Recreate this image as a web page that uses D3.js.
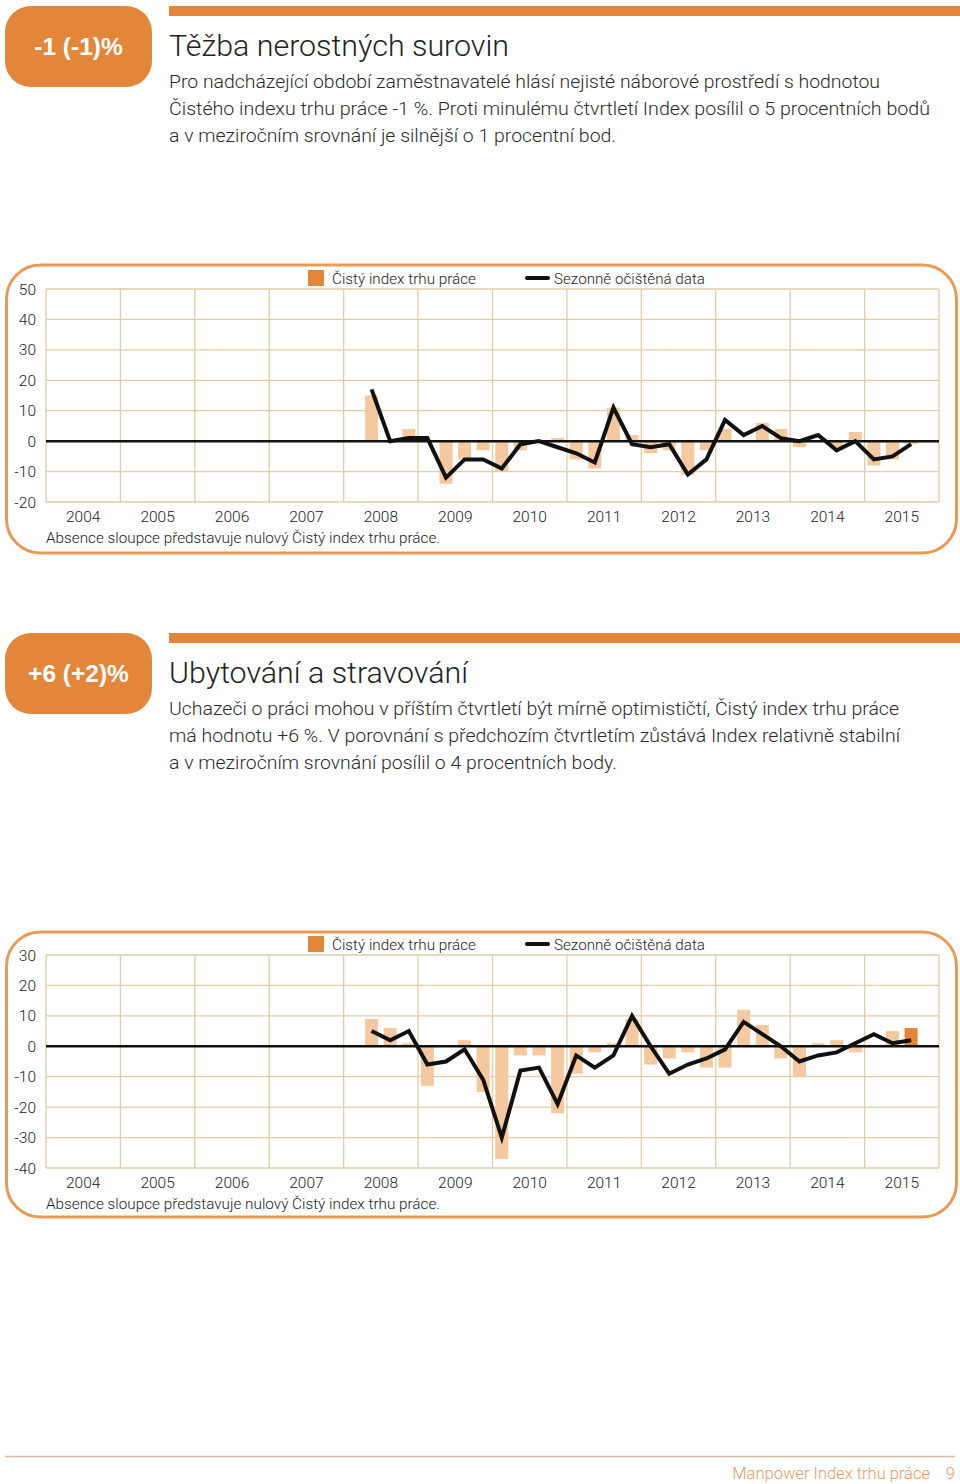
<!DOCTYPE html>
<html><head><meta charset="utf-8">
<script src="https://cdn.jsdelivr.net/npm/d3@7"></script>
<style>
html,body{margin:0;padding:0;background:#fff;}
svg{display:block;}
text{font-family:Roboto,"Liberation Sans",Arial,sans-serif;}
</style></head>
<body><svg id="c" width="960" height="1484"></svg>
<script>
// ---------- DATA ----------
const years = ["2004","2005","2006","2007","2008","2009","2010","2011","2012","2013","2014","2015"];
const quarterNames = ["Q1","Q2","Q3","Q4"];
const dataQuarters = [
  "2008Q2","2008Q3","2008Q4",
  "2009Q1","2009Q2","2009Q3","2009Q4",
  "2010Q1","2010Q2","2010Q3","2010Q4",
  "2011Q1","2011Q2","2011Q3","2011Q4",
  "2012Q1","2012Q2","2012Q3","2012Q4",
  "2013Q1","2013Q2","2013Q3","2013Q4",
  "2014Q1","2014Q2","2014Q3","2014Q4",
  "2015Q1","2015Q2","2015Q3"];
// Těžba nerostných surovin
const miningNet = [15,0,4, 0,-14,-6,-3, -10,-3,0,1, -6,-9,11,2, -4,-3,-11,-3, 4,0,6,4, -2,0,-2,3, -8,-6,-1];
const miningSA  = [17,0,1, 1,-12,-6,-6, -9,-1,0,-2, -4,-7,11,-1, -2,-1,-11,-6, 7,2,5,1, 0,2,-3,0, -6,-5,-1];
const miningTicks = [50,40,30,20,10,0,-10,-20];
// Ubytování a stravování
const hotelNet = [9,6,1, -13,0,2,-15, -37,-3,-3,-22, -9,-2,1,9, -6,-4,-2,-7, -7,12,7,-4, -10,1,2,-2, 0,5,6];
const hotelSA  = [5,2,5, -6,-5,-1,-11, -30,-8,-7,-19, -3,-7,-3,10, 0,-9,-6,-4, -1,8,4,0, -5,-3,-2,1, 4,1,2];
const hotelTicks = [30,20,10,0,-10,-20,-30,-40];

const legendBar = "Čistý index trhu práce";
const legendLine = "Sezonně očištěná data";
const noteText = "Absence sloupce představuje nulový Čistý index trhu práce.";

const sections = [
  {badge:"-1 (-1)%", title:"Těžba nerostných surovin",
   lines:["Pro nadcházející období zaměstnavatelé hlásí nejisté náborové prostředí s hodnotou",
          "Čistého indexu trhu práce -1 %. Proti minulému čtvrtletí Index posílil o 5 procentních bodů",
          "a v meziročním srovnání je silnější o 1 procentní bod."],
   net:miningNet, sa:miningSA, ticks:miningTicks, highlightLast:false},
  {badge:"+6 (+2)%", title:"Ubytování a stravování",
   lines:["Uchazeči o práci mohou v příštím čtvrtletí být mírně optimističtí, Čistý index trhu práce",
          "má hodnotu +6 %. V porovnání s předchozím čtvrtletím zůstává Index relativně stabilní",
          "a v meziročním srovnání posílil o 4 procentních body."],
   net:hotelNet, sa:hotelSA, ticks:hotelTicks, highlightLast:true}
];

// ---------- LAYOUT ----------
const layout = [
  {top:6, titleW:340, lineW:[711,761,447], frameY:265, frameH:288, plotTop:289, plotBottom:502},
  {top:633, titleW:299, lineW:[730,731,448], frameY:932, frameH:285, plotTop:955, plotBottom:1168}
];
const ORANGE = "#e3863a", LIGHT = "#f4c9a0", GRID = "#e2cca6", FRAME = "#e99a55";
const plotL = 46, plotR = 939;

const svg = d3.select("#c");

const quarterDomain = years.flatMap(y => quarterNames.map(q => y + q));
const xBand = d3.scaleBand().domain(quarterDomain).range([plotL, plotR]).paddingInner(0.3).paddingOuter(0.15);
const xYear = d3.scaleLinear().domain([2004, 2016]).range([plotL, plotR]);

sections.forEach((s, i) => {
  const L = layout[i];
  const g = svg.append("g");
  // badge
  g.append("rect").attr("x",5).attr("y",L.top).attr("width",147).attr("height",81)
    .attr("rx",26).attr("fill",ORANGE);
  g.append("text").attr("x",78.5).attr("y",L.top+49).attr("text-anchor","middle")
    .attr("fill","#fff").attr("font-size",24.5).attr("font-weight",700)
    .style("font-family","'Liberation Sans',Arial,sans-serif").text(s.badge);
  // top bar
  g.append("rect").attr("x",169).attr("y",L.top).attr("width",791).attr("height",10).attr("fill",ORANGE);
  // title
  g.append("text").attr("x",169).attr("y",L.top+50).attr("font-size",30).attr("font-weight",300)
    .attr("fill","#222").attr("textLength",L.titleW).attr("lengthAdjust","spacingAndGlyphs").text(s.title);
  s.lines.forEach((t, k) => {
    g.append("text").attr("x",169).attr("y",L.top+82+k*27).attr("font-size",18.5).attr("font-weight",300)
      .attr("fill","#2a2a2a").attr("textLength",L.lineW[k]).attr("lengthAdjust","spacingAndGlyphs").text(t);
  });

  // frame
  g.append("rect").attr("x",6.5).attr("y",L.frameY).attr("width",950).attr("height",L.frameH)
    .attr("rx",34).attr("fill","none").attr("stroke",FRAME).attr("stroke-width",3);

  const y = d3.scaleLinear().domain([d3.min(s.ticks), d3.max(s.ticks)]).range([L.plotBottom, L.plotTop]);

  // horizontal grid
  g.append("g").selectAll("line").data(s.ticks).join("line")
    .attr("x1",plotL).attr("x2",plotR).attr("y1",d=>y(d)).attr("y2",d=>y(d))
    .attr("stroke",GRID).attr("stroke-width",1.3);
  // vertical grid
  g.append("g").selectAll("line").data(d3.range(2004,2017)).join("line")
    .attr("x1",d=>xYear(d)).attr("x2",d=>xYear(d)).attr("y1",L.plotTop).attr("y2",L.plotBottom)
    .attr("stroke",GRID).attr("stroke-width",1.3);

  // y labels
  g.append("g").selectAll("text").data(s.ticks).join("text")
    .attr("x",36).attr("y",d=>y(d)).attr("dy","0.36em").attr("text-anchor","end")
    .attr("font-size",15.5).attr("font-weight",300).attr("fill","#222").text(d=>d);
  // year labels
  g.append("g").selectAll("text").data(years).join("text")
    .attr("x",d=>xYear(+d+0.5)).attr("y",L.plotBottom+20).attr("text-anchor","middle")
    .attr("font-size",15.5).attr("font-weight",300).attr("fill","#222").text(d=>d);
  // note
  g.append("text").attr("x",46).attr("y",L.plotBottom+41).attr("font-size",15.5).attr("font-weight",300).attr("fill","#222")
    .attr("textLength",394).attr("lengthAdjust","spacingAndGlyphs").text(noteText);

  // legend
  const ly = L.plotTop - 11;
  g.append("rect").attr("x",308).attr("y",ly-8).attr("width",16).attr("height",16).attr("fill",ORANGE);
  g.append("text").attr("x",332).attr("y",ly).attr("dy","0.36em").attr("font-size",15.5).attr("font-weight",300).attr("fill","#222")
    .attr("textLength",144).attr("lengthAdjust","spacingAndGlyphs").text(legendBar);
  g.append("line").attr("x1",527).attr("x2",548).attr("y1",ly).attr("y2",ly)
    .attr("stroke","#111").attr("stroke-width",4).attr("stroke-linecap","round");
  g.append("text").attr("x",554).attr("y",ly).attr("dy","0.36em").attr("font-size",15.5).attr("font-weight",300).attr("fill","#222")
    .attr("textLength",151).attr("lengthAdjust","spacingAndGlyphs").text(legendLine);

  // bars
  const rows = dataQuarters.map((q, k) => ({q, net:s.net[k], sa:s.sa[k], last:k===dataQuarters.length-1}));
  g.append("g").selectAll("rect").data(rows.filter(d=>d.net!==0)).join("rect")
    .attr("x",d=>xBand(d.q)).attr("width",xBand.bandwidth())
    .attr("y",d=>y(Math.max(0,d.net))).attr("height",d=>Math.abs(y(d.net)-y(0)))
    .attr("fill",d=>(d.last && s.highlightLast) ? ORANGE : LIGHT);

  // zero line
  g.append("line").attr("x1",plotL).attr("x2",plotR).attr("y1",y(0)).attr("y2",y(0))
    .attr("stroke","#111").attr("stroke-width",2.5);

  // SA line
  const line = d3.line().x(d=>xBand(d.q)+xBand.bandwidth()/2).y(d=>y(d.sa));
  g.append("path").datum(rows).attr("d",line).attr("fill","none")
    .attr("stroke","#111").attr("stroke-width",4).attr("stroke-linejoin","miter");
});

// footer
svg.append("line").attr("x1",5).attr("x2",955).attr("y1",1456.5).attr("y2",1456.5)
  .attr("stroke","#d9b9a0").attr("stroke-width",1.5);
svg.append("text").attr("x",930).attr("y",1479).attr("text-anchor","end").attr("font-size",16.5)
  .attr("font-weight",300).attr("fill","#df9c66").text("Manpower Index trhu práce");
svg.append("text").attr("x",955).attr("y",1479).attr("text-anchor","end").attr("font-size",16.5)
  .attr("font-weight",300).attr("fill","#df9c66").text("9");
</script></body></html>
